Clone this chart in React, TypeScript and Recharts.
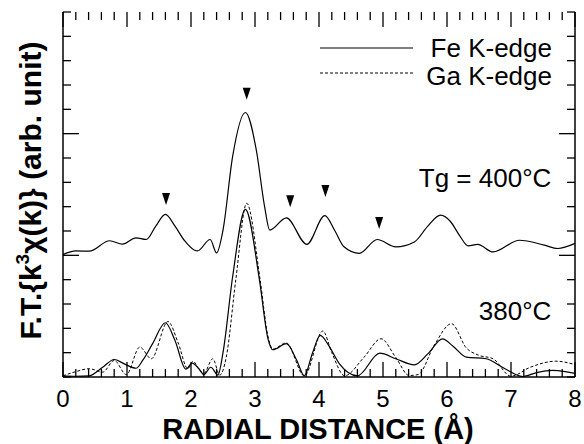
import { ComposedChart, Line, Scatter, XAxis, YAxis, ReferenceDot } from "recharts";

// Fe K-edge, Tg = 400°C (offset upward in the figure)
const fe400R = [0, 0.2, 0.41, 0.73, 0.93, 1.14, 1.3, 1.45, 1.6, 1.75, 1.9, 2.05, 2.1, 2.3, 2.4, 2.5, 2.65, 2.85, 3.02, 3.15, 3.23, 3.49, 3.81, 4.09, 4.25, 4.39, 4.63, 4.91, 5.2, 5.49, 5.7, 5.9, 6.05, 6.2, 6.33, 6.48, 6.72, 7.13, 7.52, 7.73, 8.0];
const fe400V = [5.03, 5.18, 5.17, 5.6, 5.46, 5.72, 5.65, 6.2, 6.68, 6.2, 5.6, 5.22, 5.18, 5.65, 5.1, 6.04, 9.06, 10.87, 9.33, 7.0, 6.04, 6.54, 5.45, 6.63, 6.0, 5.35, 5.08, 5.65, 5.35, 5.55, 6.2, 6.65, 6.4, 5.8, 5.39, 5.45, 5.14, 5.62, 5.42, 5.28, 5.49];

// Fe K-edge, 380°C
const fe380R = [0, 0.2, 0.41, 0.62, 0.8, 0.95, 1.14, 1.25, 1.4, 1.6, 1.75, 1.92, 2.02, 2.12, 2.2, 2.31, 2.42, 2.5, 2.65, 2.85, 3.07, 3.2, 3.28, 3.49, 3.65, 3.77, 3.9, 4.02, 4.15, 4.32, 4.6, 4.95, 5.2, 5.49, 5.7, 5.93, 6.1, 6.3, 6.61, 6.9, 7.18, 7.4, 7.65, 7.85, 8.0];
const fe380V = [0.05, 0.03, 0.05, 0.4, 0.72, 0.55, 0.36, 0.7, 1.37, 2.23, 1.5, 0.32, 0.57, 0.35, 0.1, 0.4, 0.08, 1.0, 4.11, 6.89, 3.98, 1.6, 1.12, 1.37, 0.7, 0.05, 1.0, 1.71, 1.3, 0.54, 0.05, 0.98, 0.75, 0.5, 0.95, 1.57, 1.25, 0.82, 0.75, 0.35, 0.02, 0.18, 0.27, 0.22, 0.15];

// Ga K-edge, 380°C
const ga380R = [0, 0.2, 0.41, 0.62, 0.8, 0.99, 1.2, 1.38, 1.64, 1.8, 1.95, 2.03, 2.13, 2.2, 2.34, 2.45, 2.55, 2.7, 2.87, 3.08, 3.2, 3.28, 3.49, 3.77, 4.06, 4.2, 4.4, 4.7, 4.97, 5.2, 5.41, 5.55, 5.8, 6.07, 6.3, 6.5, 6.72, 7.0, 7.3, 7.7, 8.0];
const ga380V = [0.05, 0.22, 0.34, 0.2, 0.68, 0.1, 1.23, 0.75, 2.28, 1.4, 0.34, 0.65, 0.3, 0.15, 0.75, 0.08, 0.8, 4.0, 7.14, 4.0, 1.7, 1.15, 1.4, 0.05, 1.89, 1.0, 0.05, 0.8, 1.57, 0.8, 0.06, 0.1, 1.3, 2.19, 1.2, 0.89, 0.75, 0.03, 0.4, 0.65, 0.51];

// peak markers (tip of each triangle)
const markR = [1.61, 2.87, 3.55, 4.1, 4.94];
const markV = [7.07, 11.39, 6.98, 7.4, 6.08];

const xTicks = [0, 0.2, 0.4, 0.6, 0.8, 1, 1.2, 1.4, 1.6, 1.8, 2, 2.2, 2.4, 2.6, 2.8, 3, 3.2, 3.4, 3.6, 3.8, 4, 4.2, 4.4, 4.6, 4.8, 5, 5.2, 5.4, 5.6, 5.8, 6, 6.2, 6.4, 6.6, 6.8, 7, 7.2, 7.4, 7.6, 7.8, 8];
const yTicks = [0, 1, 2, 3, 4, 5, 6, 7, 8, 9, 10, 11, 12, 13, 14, 15];
const yMajor = [5, 10];
const Y_MAX = 15;
const X_MAX = 8;

const FONT = "'Liberation Sans', Arial, Helvetica, sans-serif";

// chart frame
const W = 584;
const H = 444;
const M_TOP = 12;
const X_H = 67;
const Y_L = 63;
const Y_R = 9;
const PLOT_H = H - M_TOP - X_H;

const toRows = (r: number[], v: number[]) => r.map((x, i) => ({ r: x, v: v[i] }));
const fe400 = toRows(fe400R, fe400V);
const fe380 = toRows(fe380R, fe380V);
const ga380 = toRows(ga380R, ga380V);
const marks = toRows(markR, markV);

// bottom tick: inward tick on the bottom, the matching one on the top edge,
// and (at the last tick) the inward ticks of the right edge
function XTick({ x, y, payload }: any) {
  const major = Number.isInteger(payload.value);
  const len = major ? 15 : 8;
  const top = y - PLOT_H;
  return (
    <g>
      <line x1={x} x2={x} y1={y} y2={y - len} stroke="#000" strokeWidth={1.3} />
      <line x1={x} x2={x} y1={top} y2={top + len} stroke="#000" strokeWidth={1.3} />
      {payload.value === X_MAX &&
        yTicks.map((t) => {
          const yy = y - (t / Y_MAX) * PLOT_H;
          const l = yMajor.includes(t) ? 16 : 8;
          return <line key={t} x1={x} x2={x - l} y1={yy} y2={yy} stroke="#000" strokeWidth={1.3} />;
        })}
      {major && (
        <text x={x} y={y + 29.5} textAnchor="middle" fontSize={24} fontFamily={FONT} fill="#000">
          {payload.value}
        </text>
      )}
    </g>
  );
}

function YTick({ x, y, payload, right }: any) {
  const len = yMajor.includes(payload.value) ? 16 : 8;
  return <line x1={x} x2={right ? x - len : x + len} y1={y} y2={y} stroke="#000" strokeWidth={1.3} />;
}

function Triangle({ cx, cy }: any) {
  return <polygon points={`${cx - 4},${cy - 12} ${cx + 4},${cy - 12} ${cx},${cy}`} fill="#000" />;
}

const cornerText = (txt: string) => (p: any) => (
  <text x={p.viewBox.x} y={p.viewBox.y} textAnchor="end" fontSize={26} fontFamily={FONT} fill="#000">
    {txt}
  </text>
);

export default function App() {
  return (
    <div style={{ position: "absolute", left: 0, top: 0, width: W, height: H, background: "#fff" }}>
      <ComposedChart width={W} height={H} margin={{ top: M_TOP, right: 0, bottom: 0, left: 0 }}>
        <XAxis
          xAxisId="b"
          dataKey="r"
          type="number"
          domain={[0, X_MAX]}
          ticks={xTicks}
          interval={0}
          height={X_H}
          tickSize={0}
          tickMargin={0}
          tickLine={false}
          axisLine={{ stroke: "#000", strokeWidth: 1.5 }}
          tick={(p: any) => <XTick {...p} />}
          label={(p: any) => (
            <text
              x={p.viewBox.x + p.viewBox.width / 2 - 1}
              y={p.viewBox.y + 62}
              textAnchor="middle"
              fontSize={29}
              fontWeight="bold"
              fontFamily={FONT}
              fill="#000"
            >
              RADIAL DISTANCE (Å)
            </text>
          )}
        />
        <XAxis
          xAxisId="t"
          orientation="top"
          type="number"
          domain={[0, X_MAX]}
          ticks={xTicks}
          height={0}
          tick={false}
          tickLine={false}
          axisLine={{ stroke: "#000", strokeWidth: 1.5 }}
        />
        <YAxis
          yAxisId="l"
          type="number"
          domain={[0, Y_MAX]}
          ticks={yTicks}
          interval={0}
          width={Y_L}
          tickSize={0}
          tickMargin={0}
          tickLine={false}
          axisLine={{ stroke: "#000", strokeWidth: 1.5 }}
          tick={(p: any) => <YTick {...p} />}
          label={(p: any) => {
            const cx = p.viewBox.x + 41;
            const cy = p.viewBox.y + p.viewBox.height / 2 - 4;
            return (
              <text
                x={cx}
                y={cy}
                transform={`rotate(-90, ${cx}, ${cy})`}
                textAnchor="middle"
                fontSize={30}
                fontWeight="bold"
                fontFamily={FONT}
                fill="#000"
              >
                F.T.{"{"}k
                <tspan fontSize={19} dy={-12}>3</tspan>
                <tspan dy={12}>χ(k){"}"} (arb. unit)</tspan>
              </text>
            );
          }}
        />
        <YAxis
          yAxisId="r"
          orientation="right"
          type="number"
          domain={[0, Y_MAX]}
          ticks={yTicks}
          interval={0}
          width={Y_R}
          tickSize={0}
          tickMargin={0}
          tickLine={false}
          axisLine={{ stroke: "#000", strokeWidth: 1.5 }}
          tick={(p: any) => <YTick {...p} right />}
        />
        <Line
          xAxisId="b"
          yAxisId="l"
          data={fe400}
          dataKey="v"
          type="monotone"
          stroke="#000"
          strokeWidth={1.2}
          dot={false}
          isAnimationActive={false}
        />
        <Line
          xAxisId="b"
          yAxisId="l"
          data={ga380}
          dataKey="v"
          type="monotone"
          stroke="#000"
          strokeWidth={1}
          strokeDasharray="3 2"
          dot={false}
          isAnimationActive={false}
        />
        <Line
          xAxisId="b"
          yAxisId="l"
          data={fe380}
          dataKey="v"
          type="monotone"
          stroke="#000"
          strokeWidth={1.2}
          dot={false}
          isAnimationActive={false}
        />
        <Scatter
          xAxisId="b"
          yAxisId="l"
          data={marks}
          dataKey="v"
          shape={(p: any) => <Triangle {...p} />}
          isAnimationActive={false}
        />
        <ReferenceDot xAxisId="b" yAxisId="l" x={7.63} y={7.81} r={0} fill="none" stroke="none" label={cornerText("Tg = 400°C")} />
        <ReferenceDot xAxisId="b" yAxisId="l" x={7.63} y={2.33} r={0} fill="none" stroke="none" label={cornerText("380°C")} />
      </ComposedChart>
      {/* legend */}
      <svg width={250} height={64} style={{ position: "absolute", left: 310, top: 30 }}>
        <line x1={10} x2={103} y1={18} y2={18} stroke="#000" strokeWidth={1.2} />
        <text x={242} y={27} textAnchor="end" fontSize={26} fontFamily={FONT}>Fe K-edge</text>
        <line x1={10} x2={103} y1={43} y2={43} stroke="#000" strokeWidth={1} strokeDasharray="3 2" />
        <text x={242} y={55} textAnchor="end" fontSize={26} fontFamily={FONT}>Ga K-edge</text>
      </svg>
    </div>
  );
}
